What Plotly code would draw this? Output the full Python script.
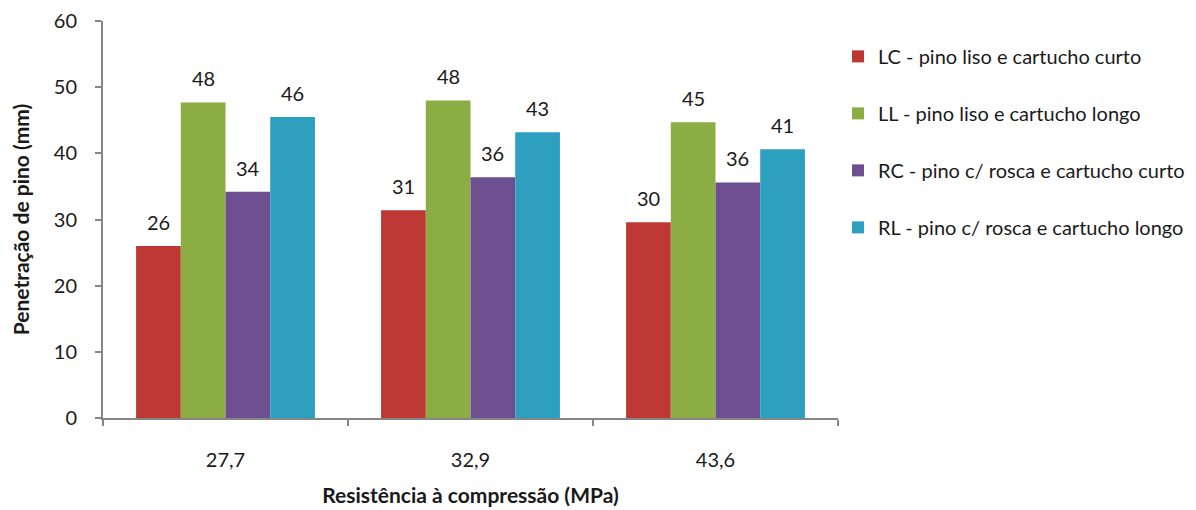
import plotly.graph_objects as go

categories = ["27,7", "32,9", "43,6"]
series_names = [
    "LC - pino liso e cartucho curto",
    "LL - pino liso e cartucho longo",
    "RC - pino c/ rosca e cartucho curto",
    "RL - pino c/ rosca e cartucho longo",
]
lc = [26.0, 31.4, 29.6]
ll = [47.7, 48.0, 44.7]
rc = [34.2, 36.4, 35.6]
rl = [45.5, 43.2, 40.6]
values = [lc, ll, rc, rl]
colors = ["#bd3734", "#8cad43", "#6d4e90", "#2d9fbf"]

FONT = "Lato, 'Open Sans', sans-serif"
W, H = 1188, 502
ML, MR, MT, MB = 95, 358, 13, 92
BARGAP = 0.27
CAT_PX = (W - ML - MR) / len(categories)
BAR_PX = CAT_PX * (1 - BARGAP) / len(values)

fig = go.Figure()
for i, (name, vals, col) in enumerate(zip(series_names, values, colors)):
    fig.add_trace(go.Bar(
        name=name, x=categories, y=vals,
        marker=dict(color=col, line=dict(width=0)),
        legendgroup=f"g{i}",
    ))
    for c, v in zip(categories, vals):
        fig.add_annotation(
            x=c, y=v, xref="x", yref="y", text=f"{v:.0f}", showarrow=False,
            xshift=(i - (len(values) - 1) / 2) * BAR_PX, yshift=24,
            font=dict(size=20, color="#1a1a1a", family=FONT),
        )

fig.update_layout(
    width=W, height=H,
    margin=dict(l=ML, r=MR, t=MT, b=MB, autoexpand=False),
    paper_bgcolor="white", plot_bgcolor="white",
    barmode="group", bargap=BARGAP, bargroupgap=0,
    font=dict(family=FONT, size=20, color="#1a1a1a"),
    legend=dict(
        x=1.0, xanchor="left", y=0.96, yanchor="top",
        font=dict(size=20, family=FONT),
        tracegroupgap=28, itemwidth=30,
    ),
    showlegend=True,
)
fig.update_xaxes(
    automargin=False,
    showline=True, linecolor="#868686", linewidth=2,
    ticks="outside", tickson="boundaries", ticklen=6, tickcolor="#868686", tickwidth=2,
    ticklabelstandoff=23, tickfont=dict(size=20),
    title=dict(text="<b>Resistência à compressão (MPa)</b>", font=dict(size=21), standoff=18),
    showgrid=False,
)
fig.update_yaxes(
    automargin=False,
    range=[0, 60], dtick=10,
    showline=True, linecolor="#868686", linewidth=2,
    ticks="outside", ticklen=6, tickcolor="#868686", tickwidth=2,
    ticklabelstandoff=14,
    tickfont=dict(size=20),
    title=dict(text="<b>Penetração de pino (mm)</b>", font=dict(size=21), standoff=18),
    showgrid=False, zeroline=False,
)

fig.write_html("out.html")
